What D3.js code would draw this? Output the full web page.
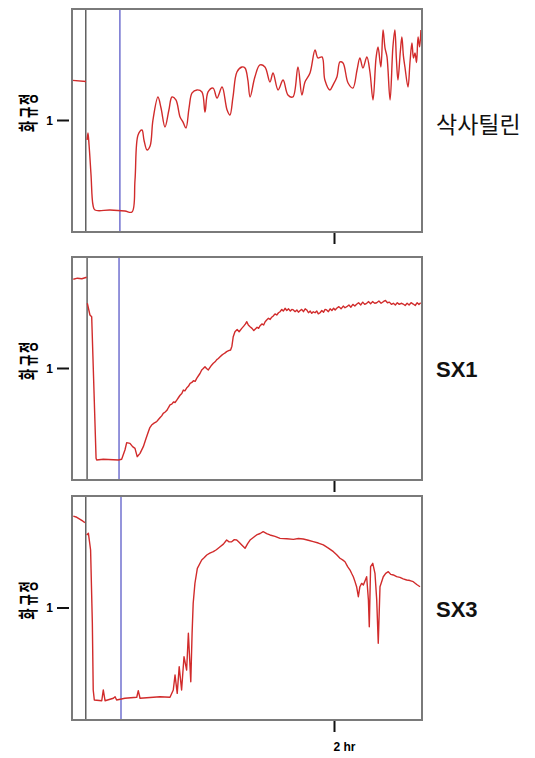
<!DOCTYPE html>
<html lang="ko">
<head>
<meta charset="utf-8">
<title>Saxatilin impedance traces</title>
<script src="https://d3js.org/d3.v7.min.js"></script>
<style>
body{margin:0;background:#fff;}
svg{display:block;}
</style>
</head>
<body>
<script>
// ---- data (time in minutes, normalized value) ----
const seriesNames = ["삭사틸린", "SX1", "SX3"];
const yLabelChars = ["정", "규", "화"];
const yTicks = [1];
const xTicks = [120];
const xTickLabel = "2 hr";
const greyMarks = [6.3, 6.9, 6.3];
const blueMarks = [21.9, 21.5, 22.4];

const saxPre = [[0.3,1.36],[6.4,1.35]];
const saxMain = [[6.9,0.825],[7.3,0.888],[7.8,0.78],[8.7,0.511],[9.6,0.242],[10.5,0.197],[17.4,0.197],[24.2,0.188],[27.4,0.179],
  [28.8,0.466],[30.2,0.87],[32.0,0.915],[32.9,0.825],[34.3,0.735],[35.7,0.771],[37.0,1.004],[39.3,1.211],[40.7,1.112],
  [42.5,0.942],[44.3,1.094],[45.7,1.211],[47.5,1.184],[49.4,1.031],[50.7,0.987],[52.1,0.933],[53.5,1.112],[54.9,1.247],
  [57.1,1.274],[59.4,1.256],[60.8,1.076],[62.2,1.256],[64.5,1.291],[66.3,1.202],[68.6,1.3],[70.9,1.094],[72.2,1.049],
  [73.6,1.211],[75.4,1.435],[77.7,1.48],[79.1,1.471],[80.4,1.363],[81.4,1.211],[83.6,1.39],[85.9,1.498],[88.2,1.48],
  [90.5,1.345],[91.9,1.426],[94.2,1.274],[96.5,1.363],[98.7,1.229],[101.0,1.211],[103.3,1.48],[105.1,1.229],[106.5,1.345],
  [108.8,1.426],[111.1,1.632],[112.4,1.561],[114.3,1.57],[115.6,1.363],[117.9,1.274],[119.3,1.318],[121.1,1.39],[122.5,1.525],
  [123.9,1.516],[126.2,1.336],[128.4,1.291],[130.3,1.453],[131.6,1.561],[133.0,1.471],[134.8,1.57],[136.2,1.435],[137.6,1.184],
  [139.0,1.561],[139.9,1.659],[141.2,1.48],[142.2,1.812],[143.1,1.65],[144.0,1.57],[145.4,1.184],[146.7,1.659],[147.6,1.812],
  [148.3,1.55],[149.0,1.363],[150.1,1.62],[150.8,1.749],[151.5,1.58],[152.2,1.48],[153.6,1.3],[154.5,1.52],[155.4,1.695],
  [156.1,1.56],[156.8,1.605],[157.5,1.52],[158.2,1.749],[158.9,1.66],[159.5,1.812]];

const sx1Pre = [[0.6,1.80],[2.5,1.81],[4.5,1.805],[6.7,1.818]];
const sx1Main = [[7.0,1.585],[8.2,1.48],[9.0,1.465],[11.0,0.195],[11.3,0.179],[14.3,0.186],[21.2,0.179],[22.7,0.186],
  [24.2,0.269],[25.0,0.335],[26.5,0.329],[27.7,0.299],[28.8,0.284],[29.8,0.209],[31.1,0.239],
  [32.6,0.299],[33.8,0.37],[34.9,0.433],[35.6,0.47],[36.4,0.493],[37.5,0.51],[38.7,0.523],[39.6,0.545],[40.3,0.56],
  [41.0,0.575],[41.7,0.598],[42.6,0.61],[43.4,0.625],[44.1,0.65],[44.8,0.673],[45.6,0.68],[46.4,0.70],[47.1,0.695],
  [47.9,0.717],[48.7,0.74],[49.4,0.76],[50.2,0.775],[50.9,0.807],[51.6,0.80],[52.4,0.825],[53.2,0.84],[54.0,0.867],
  [54.8,0.875],[55.5,0.89],[56.3,0.885],[57.0,0.912],[57.8,0.935],[58.5,0.955],[59.3,0.987],[60.0,1.0],[60.8,1.016],
  [61.5,1.0],[62.3,0.987],[63.1,1.01],[63.8,1.03],[64.6,1.047],[65.4,1.06],[66.2,1.08],[66.9,1.09],[67.7,1.106],
  [68.5,1.12],[69.2,1.13],[70.0,1.14],[70.7,1.151],[71.6,1.16],[72.5,1.166],[73.1,1.2],[73.7,1.285],
  [74.5,1.33],[75.5,1.35],[76.4,1.33],[77.6,1.36],[78.5,1.38],[79.3,1.40],[79.9,1.42],[80.6,1.39],[81.4,1.375],
  [82.3,1.36],[83.1,1.34],[83.7,1.352],[84.6,1.37],[85.3,1.36],[85.9,1.381],[86.8,1.40],[87.6,1.39],[88.3,1.42],
  [89.0,1.435],[89.8,1.45],[90.6,1.44],[91.3,1.46],[92.0,1.471],[92.8,1.49],[93.6,1.48],[94.4,1.50],[95.1,1.509],
  [95.9,1.53],[96.6,1.515],[97.4,1.54],[98.2,1.52],[99.0,1.535],[99.8,1.515],[100.5,1.53],[101.2,1.525],[102.0,1.51],
  [102.8,1.525],[103.5,1.505],[104.2,1.518],[105.0,1.53],[105.8,1.51],[106.6,1.535],[107.3,1.525],[108.1,1.50],
  [108.9,1.515],[109.6,1.495],[110.3,1.509],[111.1,1.50],[111.9,1.515],[112.6,1.49],[113.4,1.50],[114.2,1.52],
  [115.0,1.505],[115.7,1.53],[116.4,1.525],[117.2,1.51],[118.0,1.535],[118.8,1.52],[119.6,1.54],[120.3,1.525],
  [121.0,1.54],[122.0,1.555],[123.0,1.535],[124.0,1.56],[124.8,1.545],[125.6,1.554],[126.6,1.57],[127.5,1.55],
  [128.4,1.575],[129.3,1.56],[130.1,1.576],[131.0,1.59],[132.0,1.57],[132.9,1.595],[133.8,1.575],[134.7,1.585],
  [135.6,1.60],[136.5,1.58],[137.4,1.60],[138.4,1.585],[139.3,1.59],[140.3,1.605],[141.3,1.585],[142.3,1.599],
  [143.3,1.61],[144.2,1.59],[145.1,1.595],[146.0,1.575],[146.9,1.585],[147.8,1.57],[148.7,1.59],[149.6,1.575],
  [150.5,1.585],[151.4,1.578],[152.3,1.565],[153.2,1.585],[154.1,1.57],[155.0,1.59],[156.0,1.578],[156.9,1.565],
  [157.8,1.59],[158.6,1.575],[159.4,1.59]];

const sx3Pre = [[0.6,1.821],[2.2,1.81],[3.7,1.792],[5.0,1.775],[5.9,1.762]];
const sx3Main = [[6.7,1.652],[7.5,1.667],[8.5,1.518],[9.3,0.863],[9.7,0.268],[10.2,0.179],[13.6,0.172],[14.3,0.268],
  [15.1,0.172],[18.9,0.194],[19.7,0.208],[20.4,0.179],[24.2,0.194],[29.6,0.203],[30.3,0.262],[31.1,0.194],[37.2,0.203],
  [40.2,0.208],[44.8,0.203],[46.3,0.268],[47.1,0.402],[48.1,0.238],[49.0,0.476],[50.1,0.268],[51.2,0.565],[52.4,0.446],
  [53.2,0.774],[54.3,0.342],[54.9,0.774],[55.4,1.042],[56.2,1.221],[57.3,1.354],[59.3,1.429],[60.5,1.45],[61.6,1.473],
  [63.0,1.49],[64.6,1.503],[66.0,1.52],[67.7,1.547],[69.2,1.57],[70.7,1.607],[71.8,1.59],[73.0,1.592],[74.2,1.61],
  [75.3,1.607],[76.5,1.585],[77.6,1.563],[79.1,1.533],[80.3,1.575],[81.4,1.607],[82.9,1.63],[84.4,1.652],[86.0,1.665],
  [87.4,1.681],[89.0,1.665],[90.5,1.652],[92.8,1.64],[95.1,1.622],[98.2,1.618],[101.2,1.613],[103.5,1.62],[105.7,1.616],
  [108.0,1.605],[110.3,1.592],[112.6,1.58],[114.9,1.563],[117.2,1.535],[119.5,1.503],[121.0,1.475],[122.5,1.444],
  [123.7,1.43],[124.8,1.413],[126.0,1.37],[127.1,1.339],[127.8,1.31],[128.6,1.279],[129.3,1.24],[130.1,1.19],
  [130.9,1.101],[131.6,1.19],[132.4,1.22],[133.2,1.205],[134.7,1.279],[135.5,1.071],[135.9,0.833],[136.5,1.369],
  [137.5,1.399],[138.5,1.31],[139.3,1.071],[140.0,0.685],[140.8,1.19],[142.3,1.279],[143.4,1.31],[144.6,1.324],
  [145.7,1.30],[146.9,1.295],[148.4,1.28],[149.9,1.274],[151.4,1.26],[153.0,1.25],[154.5,1.245],[156.0,1.235],
  [157.6,1.21],[159.1,1.19]];

const seriesPre = [saxPre, sx1Pre, sx3Pre];
const seriesMain = [saxMain, sx1Main, sx3Main];

// ---- layout ----
const W = 535, H = 758;
const left = 72, right = 422;
const panels = [{y0: 9, y1: 232}, {y0: 257, y1: 480}, {y0: 496, y1: 720}];

const svg = d3.select("body").append("svg")
  .attr("width", W)
  .attr("height", H);

const x = d3.scaleLinear().domain([0, 160]).range([left, right]);

panels.forEach(function(p, i) {
  const y = d3.scaleLinear().domain([0, 2]).range([p.y1, p.y0]);
  const g = svg.append("g");

  // marker lines
  g.append("line")
    .attr("x1", x(greyMarks[i])).attr("x2", x(greyMarks[i]))
    .attr("y1", p.y0).attr("y2", p.y1)
    .attr("stroke", "#555").attr("stroke-width", 1.4);
  g.append("line")
    .attr("x1", x(blueMarks[i])).attr("x2", x(blueMarks[i]))
    .attr("y1", p.y0).attr("y2", p.y1)
    .attr("stroke", "#5b5bc8").attr("stroke-width", 1.3);

  // first trace has rounded oscillations
  const line = d3.line()
    .defined(function(d) { return d !== null; })
    .curve(i === 0 ? d3.curveCatmullRom.alpha(0.5) : d3.curveLinear)
    .x(function(d) { return x(d[0]); })
    .y(function(d) { return y(d[1]); });

  const pts = seriesPre[i].concat([null], seriesMain[i]);
  g.append("path")
    .datum(pts)
    .attr("d", line)
    .attr("fill", "none")
    .attr("stroke", "#d12b2b")
    .attr("stroke-width", 1.4)
    .attr("stroke-linejoin", "round");

  // frame
  g.append("rect")
    .attr("x", left).attr("y", p.y0)
    .attr("width", right - left).attr("height", p.y1 - p.y0)
    .attr("fill", "none")
    .attr("stroke", "#7a7a7a")
    .attr("stroke-width", 2);

  // y tick
  yTicks.forEach(function(t) {
    g.append("line")
      .attr("x1", left - 15).attr("x2", left - 3)
      .attr("y1", y(t)).attr("y2", y(t))
      .attr("stroke", "#111").attr("stroke-width", 2);
    g.append("text")
      .attr("x", left - 19).attr("y", y(t) + 4)
      .attr("text-anchor", "end")
      .attr("font-family", "Liberation Sans, Arial, sans-serif")
      .attr("font-weight", "bold")
      .attr("font-size", 12)
      .text(t);
  });

  // x tick
  xTicks.forEach(function(t) {
    g.append("line")
      .attr("x1", x(t)).attr("x2", x(t))
      .attr("y1", p.y1 + 1).attr("y2", p.y1 + 12)
      .attr("stroke", "#111").attr("stroke-width", 2);
    if (i === panels.length - 1) {
      g.append("text")
        .attr("x", x(t) + 10).attr("y", p.y1 + 31)
        .attr("text-anchor", "middle")
        .attr("font-family", "Liberation Sans, Arial, sans-serif")
        .attr("font-weight", "bold")
        .attr("font-size", 12)
        .text(xTickLabel);
    }
  });

  // rotated y label, one glyph at a time
  const offs = [-21, -8, 6];
  yLabelChars.forEach(function(c, k) {
    const cy = y(1) + offs[k];
    g.append("text")
      .attr("transform", "translate(28," + cy + ") rotate(-90) scale(0.64,1.05)")
      .attr("text-anchor", "middle")
      .attr("dominant-baseline", "central")
      .attr("font-family", "Noto Sans CJK KR, sans-serif")
      .attr("font-weight", "bold")
      .attr("font-size", 19)
      .text(c);
  });

  // series name on the right
  g.append("text")
    .attr("x", 436).attr("y", y(1) + (i === 0 ? 2 : 1))
    .attr("dominant-baseline", "central")
    .attr("font-family", i === 0 ? "Noto Sans CJK KR, sans-serif" : "Liberation Sans, Arial, sans-serif")
    .attr("font-weight", i === 0 ? "normal" : "bold")
    .attr("font-size", i === 0 ? 23 : 22)
    .attr("fill", "#111")
    .text(seriesNames[i]);
});
</script>
</body>
</html>
